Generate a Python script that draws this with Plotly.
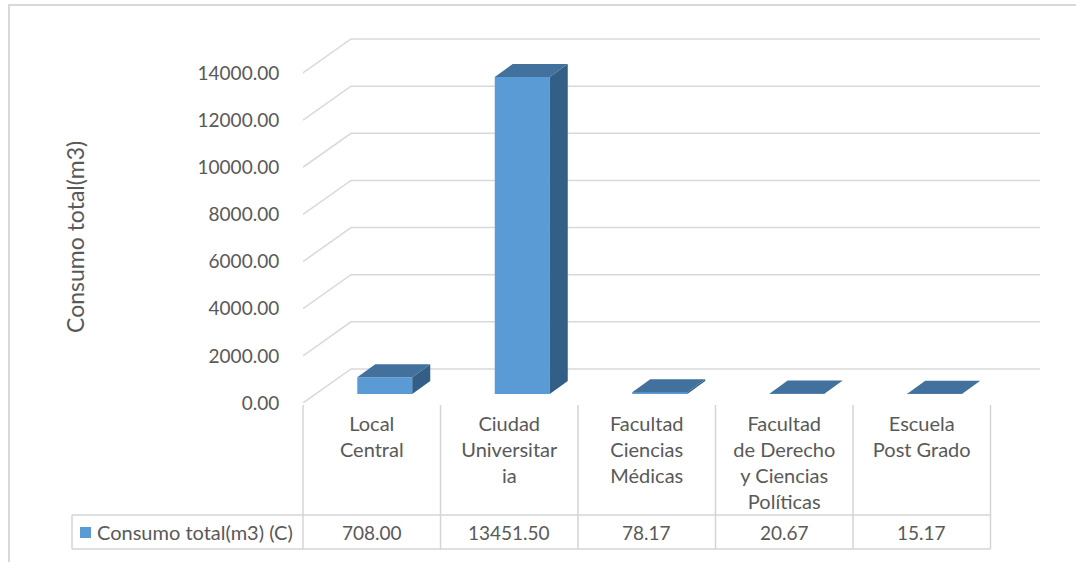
import plotly.graph_objects as go

# ---- data -------------------------------------------------------------
categories = [
    "Local<br>Central",
    "Ciudad<br>Universitar<br>ia",
    "Facultad<br>Ciencias<br>Médicas",
    "Facultad<br>de Derecho<br>y Ciencias<br>Políticas",
    "Escuela<br>Post Grado",
]
consumo = [708.00, 13451.50, 78.17, 20.67, 15.17]
series_name = "Consumo total(m3) (C)"
axis_title = "Consumo total(m3)"
y_ticks = [0, 2000, 4000, 6000, 8000, 10000, 12000, 14000]

# ---- geometry (pixels) -------------------------------------------------
W, H = 1076, 562
PLOT_L, PLOT_R, PLOT_T, PLOT_B = 303, 1040, 30, 403
CAT_PX = 137.5                 # width of one category column
VAL_PX = 330 / 14000           # pixels per unit of value
WALL_DX, WALL_DY = 48, 34      # depth of the floor / back wall
BAR_SX, BAR_SY = 13, 9         # bar front face offset into the depth
BAR_DX, BAR_DY = 18, 13        # bar depth
BAR_W_PX = 55

FRONT = "#5B9BD5"
TOP = "#41719C"
SIDE = "#335E86"
GRID = "#D9D9D9"
TEXT = "#595959"
FONT = "Lato"

n = len(consumo)
x_min = -0.5
x_max = x_min + (PLOT_R - PLOT_L) / CAT_PX
y_max = (PLOT_B - PLOT_T) / VAL_PX

wall_dx = WALL_DX / CAT_PX
wall_dy = WALL_DY / VAL_PX
bar_sx = BAR_SX / CAT_PX
bar_base = BAR_SY / VAL_PX
bar_dx = BAR_DX / CAT_PX
bar_dy = BAR_DY / VAL_PX
bar_w = BAR_W_PX / CAT_PX


def paper_x(p):
    return (p - PLOT_L) / (PLOT_R - PLOT_L)


def paper_y(p):
    return (PLOT_B - p) / (PLOT_B - PLOT_T)


fig = go.Figure()

# front faces of the columns
fig.add_trace(go.Bar(
    x=[i + bar_sx for i in range(n)],
    y=consumo,
    base=[bar_base] * n,
    width=bar_w,
    marker=dict(color=FRONT, line=dict(width=0)),
    name=series_name,
    showlegend=False,
))

# top and side faces of the columns
top_x, top_y, side_x, side_y = [], [], [], []
for i, v in enumerate(consumo):
    x0 = i + bar_sx - bar_w / 2
    x1 = i + bar_sx + bar_w / 2
    y0 = bar_base
    y1 = bar_base + v
    top_x += [x0, x1, x1 + bar_dx, x0 + bar_dx, x0, None]
    top_y += [y1, y1, y1 + bar_dy, y1 + bar_dy, y1, None]
    side_x += [x1, x1 + bar_dx, x1 + bar_dx, x1, x1, None]
    side_y += [y0, y0 + bar_dy, y1 + bar_dy, y1, y0, None]

fig.add_trace(go.Scatter(x=side_x, y=side_y, mode="lines", fill="toself",
                         fillcolor=SIDE, line=dict(width=0, color=SIDE),
                         hoverinfo="skip", showlegend=False))
fig.add_trace(go.Scatter(x=top_x, y=top_y, mode="lines", fill="toself",
                         fillcolor=TOP, line=dict(width=0, color=TOP),
                         hoverinfo="skip", showlegend=False))

shapes = []
# gridlines: diagonal on the side wall, then along the back wall
for v in y_ticks:
    shapes.append(dict(
        type="path", xref="x", yref="y", layer="below",
        path=f"M{x_min},{v} L{x_min + wall_dx},{v + wall_dy} L{x_max},{v + wall_dy}",
        line=dict(color=GRID, width=1.5),
    ))

# data table lines
TBL_TOP, TBL_MID, TBL_BOT = 403, 515, 549
LEG_L = 72
tbl_right = PLOT_L + n * CAT_PX
line_style = dict(color="#D4D4D4", width=1.5)
for k in range(n + 1):
    xp = PLOT_L + k * CAT_PX
    shapes.append(dict(type="line", xref="paper", yref="paper",
                       x0=paper_x(xp), x1=paper_x(xp),
                       y0=paper_y(TBL_TOP + 2), y1=paper_y(TBL_BOT),
                       line=line_style))
for yp in (TBL_MID, TBL_BOT):
    shapes.append(dict(type="line", xref="paper", yref="paper",
                       x0=paper_x(LEG_L), x1=paper_x(tbl_right),
                       y0=paper_y(yp), y1=paper_y(yp), line=line_style))
shapes.append(dict(type="line", xref="paper", yref="paper",
                   x0=paper_x(LEG_L), x1=paper_x(LEG_L),
                   y0=paper_y(TBL_MID), y1=paper_y(TBL_BOT), line=line_style))

# legend key square
shapes.append(dict(type="rect", xref="paper", yref="paper",
                   x0=paper_x(80), x1=paper_x(91),
                   y0=paper_y(538), y1=paper_y(527),
                   fillcolor=FRONT, line=dict(width=0)))

# outer chart border
shapes.append(dict(type="rect", xref="paper", yref="paper",
                   x0=paper_x(9), x1=paper_x(W + 20),
                   y0=paper_y(H + 20), y1=paper_y(5),
                   line=dict(color="#D9D9D9", width=2)))

annotations = []
# values row
row_y = paper_y((TBL_MID + TBL_BOT) / 2)
for i, v in enumerate(consumo):
    annotations.append(dict(
        x=i, y=row_y, xref="x", yref="paper", text=f"{v:.2f}",
        showarrow=False, xanchor="center", yanchor="middle",
        font=dict(family=FONT, size=19, color=TEXT)))
# series label in the table
annotations.append(dict(
    x=paper_x(95), y=row_y, xref="paper", yref="paper", text=series_name,
    showarrow=False, xanchor="left", yanchor="middle",
    font=dict(family=FONT, size=20, color=TEXT)))
# axis title
annotations.append(dict(
    x=paper_x(75), y=paper_y(237), xref="paper", yref="paper",
    text=axis_title, textangle=-90, showarrow=False,
    xanchor="center", yanchor="middle",
    font=dict(family=FONT, size=23, color=TEXT)))

fig.update_layout(
    width=W, height=H, autosize=False,
    margin=dict(l=PLOT_L, r=W - PLOT_R, t=PLOT_T, b=H - PLOT_B, pad=0),
    paper_bgcolor="white", plot_bgcolor="white",
    shapes=shapes, annotations=annotations,
    showlegend=False,
    font=dict(family=FONT, color=TEXT),
    xaxis=dict(
        range=[x_min, x_max], tickmode="array",
        tickvals=list(range(n)), ticktext=categories,
        ticks="", ticklabelstandoff=7,
        tickfont=dict(family=FONT, size=20, color=TEXT),
        showgrid=False, zeroline=False, showline=False, fixedrange=True,
    ),
    yaxis=dict(
        range=[0, y_max], tickmode="array", tickvals=y_ticks,
        tickformat=".2f", ticks="outside", ticklen=19,
        tickcolor="rgba(0,0,0,0)",
        tickfont=dict(family=FONT, size=19, color=TEXT),
        showgrid=False, zeroline=False, showline=False, fixedrange=True,
    ),
)

fig.write_html("out.html")
